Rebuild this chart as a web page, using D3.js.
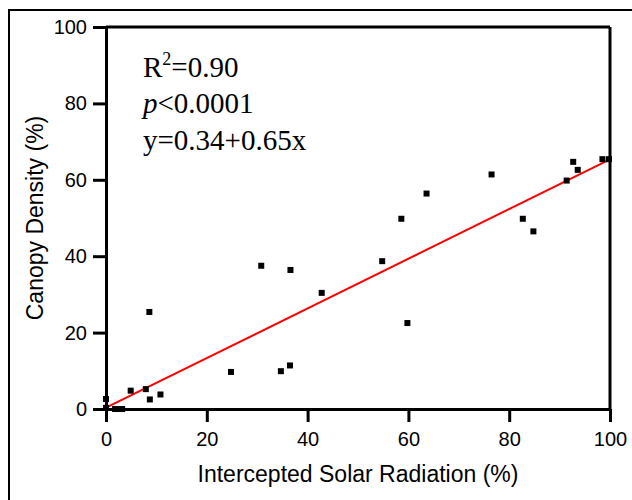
<!DOCTYPE html>
<html>
<head>
<meta charset="utf-8">
<script src="https://cdn.jsdelivr.net/npm/d3@7"></script>
<style>
  body { margin: 0; background: #fff; }
  svg text { fill: #000; }
</style>
</head>
<body>
<svg width="632" height="500"></svg>
<script>
// intercepted solar radiation (%) vs canopy density (%)
var radiation = [0, 0, 1.8, 2.8, 3.2, 4.9, 7.9, 8.6, 8.7, 10.8, 24.8, 30.8, 34.7, 36.5, 36.6, 42.8, 54.8, 58.6, 59.8, 63.6, 76.5, 82.7, 84.8, 91.4, 92.7, 93.6, 98.5, 99.8];
var density   = [2.6, 0.3, 0, 0, 0, 4.8, 5.2, 25.4, 2.5, 3.8, 9.7, 37.5, 9.9, 11.4, 36.4, 30.4, 38.7, 49.8, 22.5, 56.4, 61.4, 49.8, 46.5, 59.8, 64.7, 62.6, 65.4, 65.4];
var xTicks = [0, 20, 40, 60, 80, 100];
var yTicks = [0, 20, 40, 60, 80, 100];
var intercept = 0.34, slope = 0.65;

var svg = d3.select("svg");

// outer frame (runs off the right/bottom edge)
svg.append("rect")
    .attr("x", 9).attr("y", 10)
    .attr("width", 700).attr("height", 600)
    .attr("fill", "none").attr("stroke", "#000").attr("stroke-width", 2);

var x = d3.scaleLinear().domain([0, 100]).range([106, 610]);
var y = d3.scaleLinear().domain([0, 100]).range([409, 27]);

var xAxis = svg.append("g")
    .attr("transform", "translate(0," + y(0) + ")")
    .call(d3.axisBottom(x).tickValues(xTicks).tickSize(13).tickPadding(10).tickSizeOuter(0));

var yAxis = svg.append("g")
    .attr("transform", "translate(" + x(0) + ",0)")
    .call(d3.axisLeft(y).tickValues(yTicks).tickSize(13).tickPadding(6).tickSizeOuter(0));

[xAxis, yAxis].forEach(function(a) {
  a.select(".domain").attr("stroke", "#000").attr("stroke-width", 3);
  a.selectAll(".tick line").attr("stroke", "#000").attr("stroke-width", 3);
  a.selectAll(".tick text")
      .attr("font-family", "Liberation Sans, Arial, sans-serif")
      .attr("font-size", 20).attr("fill", "#000");
});

// top and right frame lines
svg.append("line")
    .attr("x1", x(0)).attr("x2", x(100)).attr("y1", y(100)).attr("y2", y(100))
    .attr("stroke", "#000").attr("stroke-width", 3);
svg.append("line")
    .attr("x1", x(100)).attr("x2", x(100)).attr("y1", y(100)).attr("y2", y(0))
    .attr("stroke", "#000").attr("stroke-width", 3);

// regression line
svg.append("line")
    .attr("x1", x(0)).attr("y1", y(intercept))
    .attr("x2", x(100)).attr("y2", y(intercept + slope * 100))
    .attr("stroke", "#ff0000").attr("stroke-width", 2);

// points
var pts = radiation.map(function(v, i) { return [v, density[i]]; });
svg.append("g").selectAll("rect")
    .data(pts)
    .enter().append("rect")
      .attr("x", function(d) { return x(d[0]) - 3; })
      .attr("y", function(d) { return y(d[1]) - 3; })
      .attr("width", 6).attr("height", 6)
      .attr("fill", "#000");

// axis titles
svg.append("text")
    .attr("x", (x(0) + x(100)) / 2).attr("y", 482)
    .attr("text-anchor", "middle")
    .attr("font-family", "Liberation Sans, Arial, sans-serif")
    .attr("font-size", 23)
    .text("Intercepted Solar Radiation (%)");

svg.append("text")
    .attr("transform", "translate(43," + (y(0) + y(100)) / 2 + ") rotate(-90)")
    .attr("text-anchor", "middle")
    .attr("font-family", "Liberation Sans, Arial, sans-serif")
    .attr("font-size", 23)
    .text("Canopy Density (%)");

// stats annotation
var ann = svg.append("g")
    .attr("font-family", "Liberation Serif, Times New Roman, serif")
    .attr("font-size", 29);

var t1 = ann.append("text").attr("x", 143).attr("y", 77);
t1.append("tspan").text("R");
t1.append("tspan").attr("font-size", 18).attr("dy", -12).text("2");
t1.append("tspan").attr("dy", 12).text("=0.90");

var t2 = ann.append("text").attr("x", 143).attr("y", 113);
t2.append("tspan").attr("font-style", "italic").text("p");
t2.append("tspan").text("<0.0001");

ann.append("text").attr("x", 143).attr("y", 150).text("y=0.34+0.65x");
</script>
</body>
</html>
